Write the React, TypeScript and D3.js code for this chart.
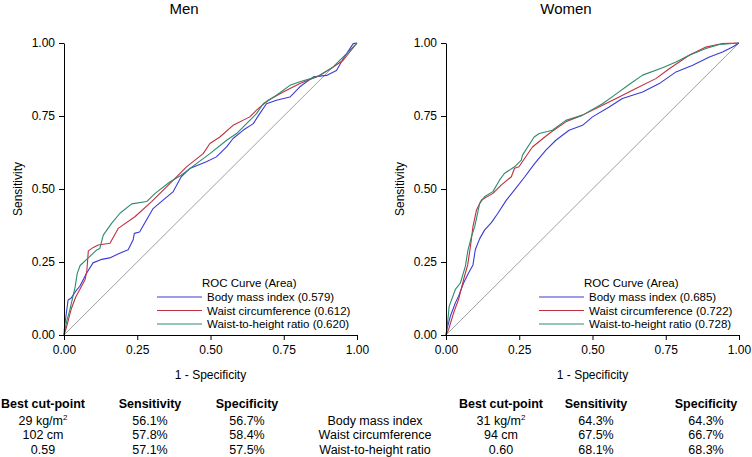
import React, { useEffect, useRef } from 'react';
import * as d3 from 'd3';

const seriesNames = ['Body mass index', 'Waist circumference', 'Waist-to-height ratio'];
const seriesColors = ['#3a3ad8', '#c0303e', '#2e8a6e'];
const tickValues = [0, 0.25, 0.5, 0.75, 1];

const menAuc = [0.579, 0.612, 0.62];
const womenAuc = [0.685, 0.722, 0.728];

// points are [1 - specificity, sensitivity]
const menBmi: [number, number][] = [
  [0, 0], [0.002, 0.03], [0.014, 0.12], [0.025, 0.127], [0.04, 0.15], [0.054, 0.167], [0.076, 0.21],
  [0.099, 0.247], [0.125, 0.258], [0.156, 0.264], [0.19, 0.28], [0.219, 0.292], [0.236, 0.326],
  [0.24, 0.348], [0.258, 0.353], [0.281, 0.393], [0.304, 0.433], [0.338, 0.462], [0.372, 0.49],
  [0.4, 0.542], [0.429, 0.57], [0.486, 0.593], [0.52, 0.61], [0.555, 0.644], [0.577, 0.673],
  [0.611, 0.701], [0.646, 0.724], [0.668, 0.758], [0.691, 0.792], [0.725, 0.804], [0.771, 0.815],
  [0.805, 0.85], [0.851, 0.884], [0.896, 0.889], [0.93, 0.906], [0.953, 0.946], [0.987, 0.998], [1, 1],
];
const menWaist: [number, number][] = [
  [0, 0], [0.008, 0.025], [0.025, 0.09], [0.04, 0.13], [0.054, 0.156], [0.072, 0.19], [0.078, 0.22],
  [0.083, 0.288], [0.1, 0.3], [0.117, 0.308], [0.157, 0.314], [0.185, 0.365], [0.242, 0.405],
  [0.299, 0.457], [0.368, 0.525], [0.418, 0.576], [0.475, 0.621], [0.498, 0.656], [0.532, 0.678],
  [0.577, 0.718], [0.634, 0.747], [0.657, 0.77], [0.697, 0.804], [0.748, 0.832], [0.805, 0.861],
  [0.874, 0.889], [0.919, 0.918], [0.953, 0.941], [1, 1],
];
const menWhr: [number, number][] = [
  [0, 0], [0.01, 0.05], [0.02, 0.086], [0.03, 0.13], [0.038, 0.165], [0.045, 0.21], [0.055, 0.238],
  [0.083, 0.264], [0.11, 0.29], [0.122, 0.296], [0.134, 0.342], [0.163, 0.383], [0.191, 0.417],
  [0.231, 0.449], [0.282, 0.457], [0.311, 0.485], [0.361, 0.524], [0.4, 0.547], [0.452, 0.587],
  [0.498, 0.621], [0.555, 0.667], [0.589, 0.69], [0.623, 0.724], [0.657, 0.758], [0.68, 0.792],
  [0.725, 0.821], [0.771, 0.855], [0.805, 0.867], [0.862, 0.884], [0.919, 0.918], [0.942, 0.941],
  [0.976, 0.975], [1, 1],
];

const womenBmi: [number, number][] = [
  [0, 0], [0.003, 0.019], [0.015, 0.065], [0.032, 0.11], [0.043, 0.133], [0.06, 0.178], [0.077, 0.212],
  [0.092, 0.24], [0.1, 0.292], [0.115, 0.33], [0.132, 0.36], [0.155, 0.385], [0.177, 0.417],
  [0.206, 0.462], [0.234, 0.497], [0.269, 0.542], [0.303, 0.588], [0.341, 0.633], [0.375, 0.667],
  [0.42, 0.701], [0.466, 0.718], [0.5, 0.747], [0.557, 0.781], [0.602, 0.81], [0.671, 0.832],
  [0.728, 0.861], [0.785, 0.901], [0.842, 0.924], [0.899, 0.952], [0.944, 0.969], [0.978, 0.986], [1, 1],
];
const womenWaist: [number, number][] = [
  [0, 0], [0.009, 0.019], [0.026, 0.076], [0.043, 0.122], [0.06, 0.19], [0.074, 0.24], [0.083, 0.3],
  [0.092, 0.371], [0.104, 0.428], [0.121, 0.462], [0.16, 0.485], [0.189, 0.514], [0.223, 0.542],
  [0.234, 0.571], [0.249, 0.576], [0.295, 0.644], [0.352, 0.69], [0.409, 0.73], [0.466, 0.753],
  [0.534, 0.787], [0.591, 0.815], [0.648, 0.844], [0.716, 0.878], [0.762, 0.912], [0.83, 0.958],
  [0.887, 0.986], [0.944, 0.998], [1, 1],
];
const womenWhr: [number, number][] = [
  [0, 0], [0.003, 0.019], [0.011, 0.099], [0.032, 0.156], [0.049, 0.178], [0.066, 0.235], [0.075, 0.291],
  [0.087, 0.337], [0.098, 0.371], [0.115, 0.451], [0.132, 0.474], [0.16, 0.491], [0.183, 0.531],
  [0.2, 0.554], [0.234, 0.576], [0.257, 0.599], [0.261, 0.616], [0.301, 0.678], [0.318, 0.69],
  [0.363, 0.701], [0.409, 0.735], [0.466, 0.753], [0.534, 0.792], [0.58, 0.825], [0.625, 0.858],
  [0.671, 0.89], [0.739, 0.915], [0.785, 0.935], [0.83, 0.958], [0.887, 0.981], [0.933, 0.995], [1, 1],
];

const tableHeaders = ['Best cut-point', 'Sensitivity', 'Specificity'];
const menCutPoints = ['29 kg/m^2', '102 cm', '0.59'];
const menSensitivity = ['56.1%', '57.8%', '57.1%'];
const menSpecificity = ['56.7%', '58.4%', '57.5%'];
const womenCutPoints = ['31 kg/m^2', '94 cm', '0.60'];
const womenSensitivity = ['64.3%', '67.5%', '68.1%'];
const womenSpecificity = ['64.3%', '66.7%', '68.3%'];

const width = 752;
const height = 457;
const font = 'Arial, "Liberation Sans", sans-serif';

const panels = [
  { title: 'Men', left: 64, right: 357, titleX: 184, curves: [menBmi, menWaist, menWhr], auc: menAuc },
  { title: 'Women', left: 446, right: 739, titleX: 566, curves: [womenBmi, womenWaist, womenWhr], auc: womenAuc },
];
const plotTop = 43;
const plotBottom = 335;

export default function App() {
  const ref = useRef<SVGSVGElement | null>(null);

  useEffect(() => {
    document.body.style.margin = '0';
    const svg = d3.select(ref.current);
    svg.selectAll('*').remove();

    panels.forEach(p => {
      const x = d3.scaleLinear().domain([0, 1]).range([p.left, p.right]);
      const y = d3.scaleLinear().domain([0, 1]).range([plotBottom, plotTop]);
      const g = svg.append('g');

      g.append('text')
        .attr('x', p.titleX).attr('y', 14)
        .attr('text-anchor', 'middle')
        .attr('font-size', 15)
        .text(p.title);

      // reference diagonal
      g.append('line')
        .attr('x1', x(0)).attr('y1', y(0)).attr('x2', x(1)).attr('y2', y(1))
        .attr('stroke', '#a0a0a0').attr('stroke-width', 1);

      const line = d3.line<[number, number]>().x(d => x(d[0])).y(d => y(d[1]));
      p.curves.forEach((c, i) => {
        g.append('path')
          .attr('d', line(c))
          .attr('fill', 'none')
          .attr('stroke', seriesColors[i])
          .attr('stroke-width', 1.1)
          .attr('stroke-linejoin', 'round');
      });

      const fmt = d3.format('.2f');
      g.append('g')
        .attr('transform', `translate(0,${plotBottom})`)
        .call(d3.axisBottom(x).tickValues(tickValues).tickFormat(d => fmt(d as number)).tickSize(5).tickSizeOuter(0))
        .call(a => a.selectAll('text').attr('font-size', 12).attr('font-family', font).attr('dy', '0.95em'));
      g.append('g')
        .attr('transform', `translate(${p.left},0)`)
        .call(d3.axisLeft(y).tickValues(tickValues).tickFormat(d => fmt(d as number)).tickSize(5).tickSizeOuter(0))
        .call(a => a.selectAll('text').attr('font-size', 12).attr('font-family', font).attr('x', -9));

      g.append('text')
        .attr('transform', `translate(${p.left - 46},${(plotTop + plotBottom) / 2}) rotate(-90)`)
        .attr('text-anchor', 'middle').attr('dy', '0.35em')
        .attr('font-size', 12)
        .text('Sensitivity');
      g.append('text')
        .attr('x', (p.left + p.right) / 2).attr('y', 379)
        .attr('text-anchor', 'middle')
        .attr('font-size', 12)
        .text('1 - Specificity');

      // legend
      const lx = p.left + 138;
      g.append('text')
        .attr('x', lx).attr('y', 287)
        .attr('font-size', 11.5)
        .text('ROC Curve (Area)');
      seriesNames.forEach((name, i) => {
        const ly = 297 + i * 13.5;
        g.append('line')
          .attr('x1', lx - 45).attr('x2', lx).attr('y1', ly).attr('y2', ly)
          .attr('stroke', seriesColors[i]).attr('stroke-width', 1.1);
        g.append('text')
          .attr('x', lx + 5).attr('y', ly + 4)
          .attr('font-size', 11.5)
          .text(`${name} (${d3.format('.3f')(p.auc[i])})`);
      });
    });

    // tables
    const tables = [
      { cols: [43, 150, 247], cells: [menCutPoints, menSensitivity, menSpecificity] },
      { cols: [501, 596, 706], cells: [womenCutPoints, womenSensitivity, womenSpecificity] },
    ];
    const rowY = [424.5, 439, 453.5];
    tables.forEach(t => {
      t.cols.forEach((cx, ci) => {
        svg.append('text')
          .attr('x', cx).attr('y', 408)
          .attr('text-anchor', 'middle')
          .attr('font-size', 12.5).attr('font-weight', 'bold')
          .text(tableHeaders[ci]);
        t.cells[ci].forEach((v, ri) => {
          const tx = svg.append('text')
            .attr('x', cx).attr('y', rowY[ri])
            .attr('text-anchor', 'middle')
            .attr('font-size', 12.5);
          const parts = v.split('^');
          tx.append('tspan').text(parts[0]);
          if (parts[1]) {
            tx.append('tspan').attr('dy', -5).attr('font-size', 8).text(parts[1]);
          }
        });
      });
    });
    seriesNames.forEach((name, ri) => {
      svg.append('text')
        .attr('x', 375).attr('y', rowY[ri])
        .attr('text-anchor', 'middle')
        .attr('font-size', 12.5)
        .text(name);
    });
  }, []);

  return (
    <svg ref={ref} width={width} height={height} style={{ display: 'block', fontFamily: font, background: '#fff' }} fontFamily={font} />
  );
}
